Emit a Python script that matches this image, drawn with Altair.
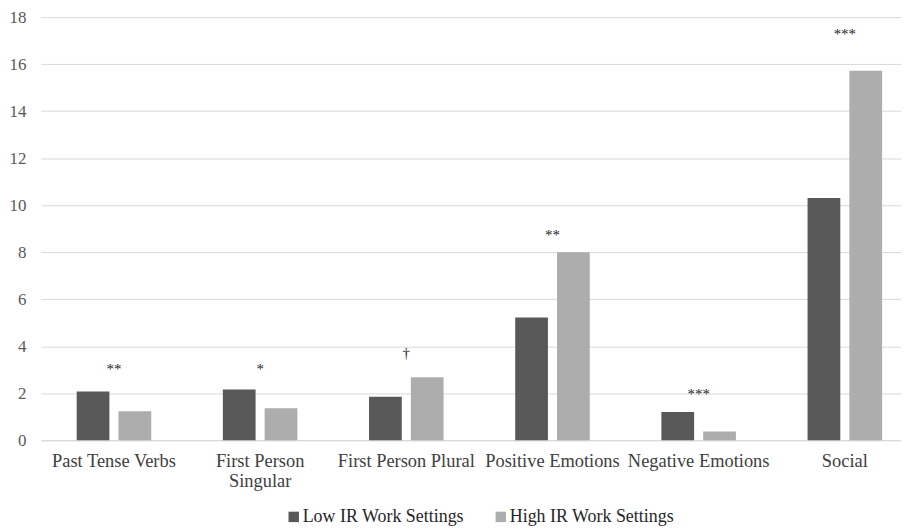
import altair as alt
import pandas as pd

categories = ["Past Tense Verbs", "First Person|Singular", "First Person Plural",
              "Positive Emotions", "Negative Emotions", "Social"]
series = ["Low IR Work Settings", "High IR Work Settings"]
low_values = [2.07, 2.16, 1.85, 5.22, 1.20, 10.31]
high_values = [1.23, 1.36, 2.68, 8.00, 0.37, 15.72]
sig_marks = ["**", "*", "\u2020", "**", "***", "***"]
sig_y = [3.05, 3.05, 3.7, 8.75, 1.95, 17.3]
y_ticks = [0, 2, 4, 6, 8, 10, 12, 14, 16, 18]

FONT = "Liberation Serif"

rows = []
for c, lo, hi in zip(categories, low_values, high_values):
    rows.append({"category": c, "series": series[0], "value": lo})
    rows.append({"category": c, "series": series[1], "value": hi})
bars_df = pd.DataFrame(rows)
sig_df = pd.DataFrame({"category": categories, "mark": sig_marks, "y": sig_y})

x_enc = alt.X("category:N", sort=categories, title=None,
              scale=alt.Scale(range=[0, 881], paddingInner=0.49, paddingOuter=0.245),
              axis=alt.Axis(labelAngle=0, labelExpr="split(datum.label, '|')",
                            labelFont=FONT, labelFontSize=18.5, labelColor="#404040",
                            labelPadding=11, labelLineHeight=20, labelBaseline="top",
                            labelLimit=300, ticks=False, domain=True,
                            domainColor="#D9D9D9", grid=False))

bars = alt.Chart(bars_df).mark_bar().encode(
    x=x_enc,
    xOffset=alt.XOffset("series:N", sort=series,
                        scale=alt.Scale(paddingInner=0.217, paddingOuter=0)),
    y=alt.Y("value:Q", title=None,
            scale=alt.Scale(domain=[0, 18], nice=False),
            axis=alt.Axis(values=y_ticks, labelFont=FONT, labelFontSize=17,
                          labelColor="#595959", labelPadding=15, ticks=False,
                          domain=False, gridColor="#D9D9D9", gridWidth=1)),
    color=alt.Color("series:N", sort=series,
                    scale=alt.Scale(domain=series, range=["#595959", "#ADADAD"]),
                    legend=alt.Legend(title=None, orient="none", direction="horizontal",
                                      legendX=245, legendY=493, symbolType="square",
                                      symbolSize=110, symbolStrokeWidth=0,
                                      labelFont=FONT, labelFontSize=18,
                                      labelColor="#262626", labelLimit=400,
                                      labelOffset=0, columnPadding=27)),
)

sig = alt.Chart(sig_df).mark_text(font=FONT, fontSize=15, color="#262626",
                                  baseline="middle").encode(
    x=alt.X("category:N", sort=categories),
    y=alt.Y("y:Q"),
    text="mark:N",
)

chart = alt.layer(bars, sig).properties(
    width=864, height=425,
    autosize=alt.AutoSizeParams(type="none"),
    padding={"left": 33, "top": 8, "right": 0, "bottom": 90},
).configure(font=FONT).configure_view(stroke=None)

chart.save("out.html", embed_options={"renderer": "svg", "actions": False})
